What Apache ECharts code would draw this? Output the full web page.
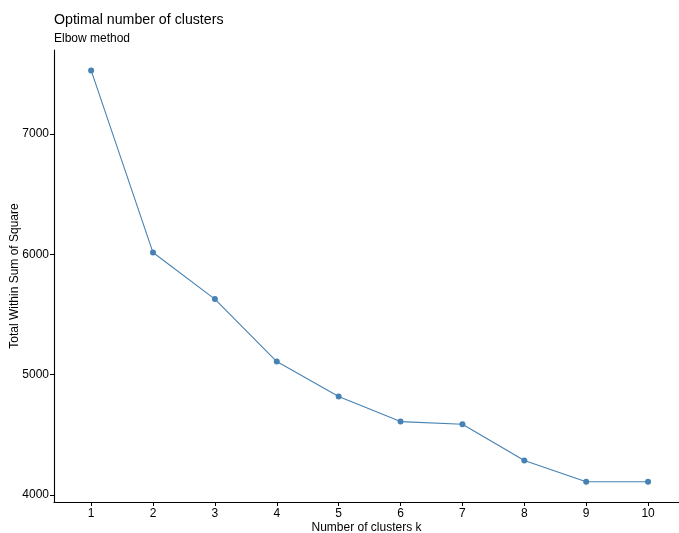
<!DOCTYPE html>
<html>
<head>
<meta charset="utf-8">
<script src="https://cdn.jsdelivr.net/npm/echarts@6/dist/echarts.min.js"></script>
<style>
html,body{margin:0;padding:0;background:#fff;}
#chart{width:679px;height:533px;}
</style>
</head>
<body>
<div id="chart"></div>
<script>
var clusters = [1, 2, 3, 4, 5, 6, 7, 8, 9, 10];
var wss = [7530, 6015, 5628, 5108, 4817, 4609, 4587, 4285, 4108, 4108];
var yTicks = [4000, 5000, 6000, 7000];
var titleText = 'Optimal number of clusters';
var subtitleText = 'Elbow method';
var xTitle = 'Number of clusters k';
var yTitle = 'Total Within Sum of Square';

var font = 'Liberation Sans, Arial, Helvetica, sans-serif';
var chart = echarts.init(document.getElementById('chart'), null, {renderer: 'canvas'});
chart.setOption({
  animation: false,
  backgroundColor: '#fff',
  title: {
    text: titleText,
    subtext: subtitleText,
    left: 54,
    top: 13,
    padding: 0,
    itemGap: 6,
    textStyle: {fontFamily: font, fontSize: 14.2, fontWeight: 'normal', color: '#000'},
    subtextStyle: {fontFamily: font, fontSize: 12, color: '#000'}
  },
  grid: {left: 54, right: 0, top: 50, bottom: 31, containLabel: false, outerBoundsMode: 'none'},
  xAxis: {
    type: 'value',
    min: 0.4,
    max: 10.5,
    name: xTitle,
    nameLocation: 'middle',
    nameGap: 20,
    nameMoveOverlap: false,
    nameTextStyle: {fontFamily: font, fontSize: 12, color: '#000'},
    axisLine: {show: true, lineStyle: {color: '#000', width: 1.1}},
    axisTick: {show: true, length: 4, customValues: clusters, lineStyle: {color: '#000'}},
    axisLabel: {customValues: clusters, fontFamily: font, fontSize: 12, color: '#000', margin: 6,
      formatter: function (v) { return String(v); }},
    splitLine: {show: false}
  },
  yAxis: {
    type: 'value',
    min: 3940,
    max: 7700,
    name: yTitle,
    nameLocation: 'middle',
    nameGap: 33,
    nameMoveOverlap: false,
    nameTextStyle: {fontFamily: font, fontSize: 12, color: '#000'},
    axisLine: {show: true, lineStyle: {color: '#000', width: 1.1}},
    axisTick: {show: true, length: 4, customValues: yTicks, lineStyle: {color: '#000'}},
    axisLabel: {customValues: yTicks, fontFamily: font, fontSize: 12, color: '#000', margin: 5,
      formatter: function (v) { return String(v); }},
    splitLine: {show: false}
  },
  series: [{
    type: 'line',
    data: clusters.map(function (c, i) { return [c, wss[i]]; }),
    symbol: 'circle',
    symbolSize: 6,
    showSymbol: true,
    lineStyle: {color: '#4682B4', width: 1.1},
    itemStyle: {color: '#4682B4'}
  }]
});
</script>
</body>
</html>
